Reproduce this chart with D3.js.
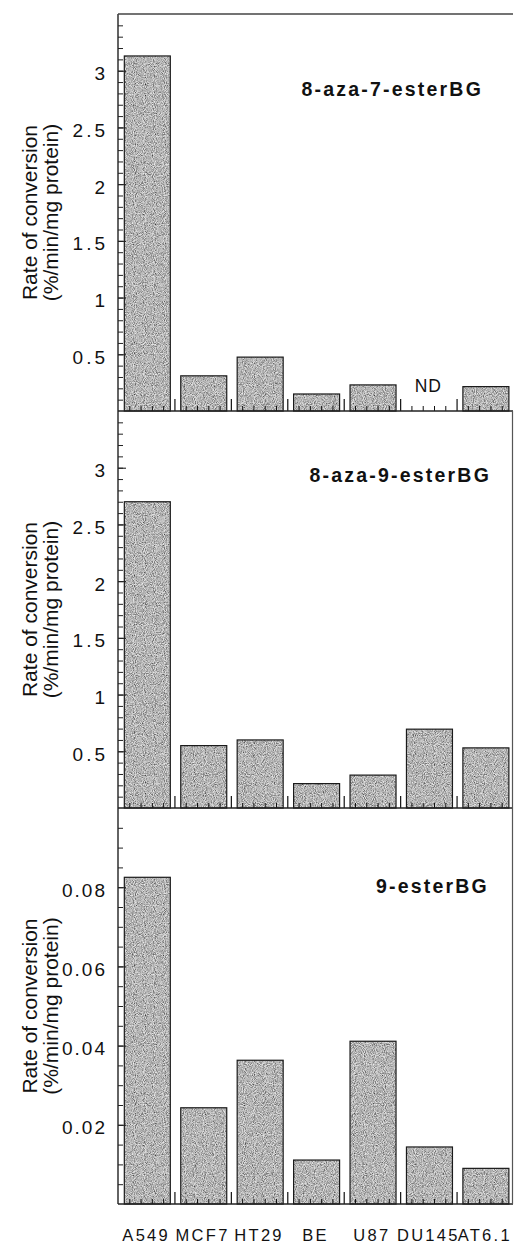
<!DOCTYPE html>
<html>
<head>
<meta charset="utf-8">
<script src="https://cdn.jsdelivr.net/npm/d3@7"></script>
<style>
  body { margin: 0; background: #fff; }
  svg { display: block; font-family: "Liberation Sans", Arial, Helvetica, sans-serif; }
</style>
</head>
<body>
<div id="chart"></div>
<script>
// cell lines along the x axis
const categories = ["A549", "MCF7", "HT29", "BE", "U87", "DU145", "AT6.1"];

// rate of conversion (%/min/mg protein); null = ND
const aza7Values = [3.13, 0.31, 0.475, 0.15, 0.23, null, 0.215];
const aza9Values = [2.70, 0.55, 0.60, 0.215, 0.29, 0.695, 0.53];
const esterValues = [0.0825, 0.0243, 0.0363, 0.0111, 0.0411, 0.0144, 0.009];

const panelTitles = ["8-aza-7-esterBG", "8-aza-9-esterBG", "9-esterBG"];
const aza7Ticks = [0.5, 1, 1.5, 2, 2.5, 3];
const aza9Ticks = [0.5, 1, 1.5, 2, 2.5, 3];
const esterTicks = [0.02, 0.04, 0.06, 0.08];
const yMaxes = [3.5, 3.5, 0.1];
const minorSteps = [0.1, 0.1, 0.005];
const yTitle = ["Rate of conversion", "(%/min/mg protein)"];
const ndLabel = "ND";

// layout
const W = 514, H = 1249;
const left = 118, right = 513;
const panelTops = [14, 411, 808];
const panelBottoms = [411, 808, 1204];
const titlePos = [{x: 483, y: 96}, {x: 491, y: 482}, {x: 489, y: 893}];
const tickFont = [{size: 19, ls: 3}, {size: 19, ls: 3}, {size: 19, ls: 2}];

const svg = d3.select("#chart").append("svg")
    .attr("width", W)
    .attr("height", H);

// grainy print-like fill for the bars
const defs = svg.append("defs");
const grain = defs.append("filter")
    .attr("id", "grain")
    .attr("x", 0).attr("y", 0).attr("width", 1).attr("height", 1);
grain.append("feTurbulence")
    .attr("type", "fractalNoise")
    .attr("baseFrequency", 1.1)
    .attr("numOctaves", 1)
    .attr("seed", 3)
    .attr("result", "noise");
grain.append("feColorMatrix")
    .attr("in", "noise")
    .attr("type", "matrix")
    .attr("values", "1.3 0 0 0 -0.19  1.3 0 0 0 -0.19  1.3 0 0 0 -0.19  0 0 0 0 1")
    .attr("result", "gray");
grain.append("feComposite")
    .attr("in", "gray")
    .attr("in2", "SourceGraphic")
    .attr("operator", "in");

const x = d3.scaleBand().domain(categories).range([left, right]).padding(0);
const xIdx = d3.scaleLinear().domain([0, categories.length]).range([left, right]);

const panels = [
    {values: aza7Values, ticks: aza7Ticks, fmt: d3.format("")},
    {values: aza9Values, ticks: aza9Ticks, fmt: d3.format("")},
    {values: esterValues, ticks: esterTicks, fmt: d3.format(".2f")}
];

function drawPanel(i)
{
    const p = panels[i];
    const y = d3.scaleLinear().domain([0, yMaxes[i]]).range([panelBottoms[i], panelTops[i]]);
    const g = svg.append("g");

    // bars: grain fill, then outline on top
    const rows = categories.map(function(c, k){ return {cat: c, v: p.values[k]}; });
    const shown = rows.filter(function(d){ return d.v != null; });
    ["fill", "edge"].forEach(function(layer){
        g.selectAll("rect.bar-" + layer)
            .data(shown)
            .join("rect")
            .attr("class", "bar-" + layer)
            .attr("x", function(d){ return x(d.cat) + x.bandwidth() * 0.112; })
            .attr("width", x.bandwidth() * 0.815)
            .attr("y", function(d){ return y(d.v); })
            .attr("height", function(d){ return y(0) - y(d.v); })
            .attr("fill", layer == "fill" ? "#8a8a8a" : "none")
            .attr("filter", layer == "fill" ? "url(#grain)" : null)
            .attr("stroke", layer == "fill" ? "none" : "#1a1a1a")
            .attr("stroke-width", 1.2);
    });

    // ND marker
    rows.filter(function(d){ return d.v == null; }).forEach(function(d){
        g.append("text")
            .attr("x", x(d.cat) + x.bandwidth() / 2)
            .attr("y", y(0) - 19)
            .attr("text-anchor", "middle")
            .attr("font-size", 17.5)
            .attr("letter-spacing", 1)
            .attr("fill", "#111")
            .text(ndLabel);
    });

    // minor y ticks (inward)
    const minor = d3.range(minorSteps[i], yMaxes[i] - 1e-9, minorSteps[i]);
    g.append("g")
        .attr("transform", "translate(" + left + ",0)")
        .call(d3.axisLeft(y).tickValues(minor).tickSize(-5).tickFormat(""))
        .call(function(a){ a.select(".domain").remove(); })
        .selectAll("line").attr("stroke", "#222");

    // major y ticks with labels
    const yAxis = g.append("g")
        .attr("transform", "translate(" + left + ",0)")
        .call(d3.axisLeft(y).tickValues(p.ticks).tickSize(-8).tickPadding(13 - tickFont[i].ls).tickFormat(p.fmt));
    yAxis.select(".domain").remove();
    yAxis.selectAll("line").attr("stroke", "#222").attr("stroke-width", 1.1);
    yAxis.selectAll("text")
        .attr("font-size", tickFont[i].size)
        .attr("letter-spacing", tickFont[i].ls)
        .attr("dy", "0.48em")
        .attr("fill", "#111")
        .attr("font-family", "'Liberation Sans', Arial, sans-serif");

    // x ticks: tall at band boundaries, short at fifths
    const fifths = d3.range(0, categories.length, 0.2).filter(function(v){
        return Math.abs(v - Math.round(v)) > 1e-6;
    });
    const bounds = d3.range(1, categories.length);
    g.append("g")
        .attr("transform", "translate(0," + panelBottoms[i] + ")")
        .call(d3.axisBottom(xIdx).tickValues(fifths).tickSize(-5).tickFormat(""))
        .call(function(a){ a.select(".domain").remove(); })
        .selectAll("line").attr("stroke", "#111");
    g.append("g")
        .attr("transform", "translate(0," + panelBottoms[i] + ")")
        .call(d3.axisBottom(xIdx).tickValues(bounds).tickSize(-12).tickFormat(""))
        .call(function(a){ a.select(".domain").remove(); })
        .selectAll("line").attr("stroke", "#111").attr("stroke-width", 1.2);

    // baseline
    g.append("line")
        .attr("x1", left).attr("x2", right)
        .attr("y1", panelBottoms[i]).attr("y2", panelBottoms[i])
        .attr("stroke", "#222").attr("stroke-width", 1.4);

    // panel title
    g.append("text")
        .attr("x", titlePos[i].x)
        .attr("y", titlePos[i].y)
        .attr("text-anchor", "end")
        .attr("font-size", 19.5)
        .attr("font-weight", "bold")
        .attr("letter-spacing", 2.2)
        .attr("fill", "#111")
        .text(panelTitles[i]);

    // y axis title, two lines rotated
    const cy = (panelTops[i] + panelBottoms[i]) / 2;
    const t = g.append("text")
        .attr("transform", "translate(0," + cy + ") rotate(-90)")
        .attr("text-anchor", "middle")
        .attr("font-size", 21)
        .attr("fill", "#111");
    t.append("tspan").attr("x", 0).attr("y", 37).text(yTitle[0]);
    t.append("tspan").attr("x", 0).attr("y", 58).text(yTitle[1]);
}

for (let i = 0; i < panels.length; i++)
{
    drawPanel(i);
}

// frame: left axis line, top edge, right edge of lower panels
svg.append("line")
    .attr("x1", left).attr("x2", left)
    .attr("y1", panelTops[0]).attr("y2", panelBottoms[2])
    .attr("stroke", "#222").attr("stroke-width", 1.4);
svg.append("line")
    .attr("x1", left).attr("x2", right)
    .attr("y1", panelTops[0]).attr("y2", panelTops[0])
    .attr("stroke", "#444").attr("stroke-width", 1.3);
svg.append("line")
    .attr("x1", right - 0.5).attr("x2", right - 0.5)
    .attr("y1", panelTops[1]).attr("y2", panelBottoms[2])
    .attr("stroke", "#555").attr("stroke-width", 1.2);

// category labels under the bottom panel
const xAxis = svg.append("g")
    .attr("transform", "translate(0," + panelBottoms[2] + ")")
    .call(d3.axisBottom(x).tickSize(0).tickPadding(25));
xAxis.select(".domain").remove();
xAxis.selectAll("text")
    .attr("font-size", 16.5)
    .attr("letter-spacing", 2.3)
    .attr("fill", "#111")
    .attr("font-family", "'Liberation Sans', Arial, sans-serif");
</script>
</body>
</html>
